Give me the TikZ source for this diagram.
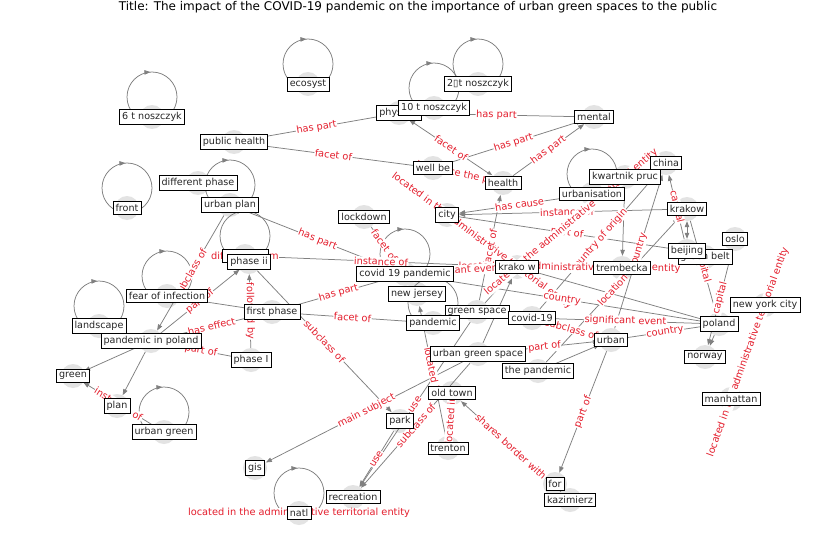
\documentclass[tikz,border=0pt]{standalone}
\usepackage{fontspec}
\setmainfont{DejaVu Sans}
\usetikzlibrary{arrows.meta,decorations.markings,calc}
\definecolor{elab}{RGB}{228,30,45}
\pgfdeclarelayer{bgw}\pgfdeclarelayer{circ}\pgfdeclarelayer{edges}\pgfdeclarelayer{boxes}
\pgfsetlayers{bgw,circ,edges,main,boxes}
\tikzset{
 dot/.style={circle,fill=gray!22,draw=none,minimum size=24pt,inner sep=0pt},
 lbl/.style={draw=black,fill=white,line width=0.6pt,inner sep=2.6pt,text=black!85,font=\fontsize{9.6}{11}\selectfont},
 edge/.style={draw=gray,line width=0.75pt,-{Triangle[length=6pt,width=4.5pt]}},
 bedge/.style={draw=gray,line width=0.75pt,{Triangle[length=6pt,width=4.5pt]}-{Triangle[length=6pt,width=4.5pt]}},
 el/.style={text=elab,fill=white,inner sep=0.6pt,font=\fontsize{9.8}{11}\selectfont,midway,sloped},
 sl/.style={text=elab,fill=white,inner sep=0.6pt,font=\fontsize{9.8}{11}\selectfont},
 loopst/.style={draw=gray,color=gray,line width=0.75pt,postaction={decorate},decoration={markings,mark=at position 0.74 with {\arrow{Triangle[length=6pt,width=4.5pt]}}}}
}
\newcommand\nodeN[3]{%
 \begin{pgfonlayer}{circ}\node[dot] (#1) at (#2) {};\end{pgfonlayer}%
 \begin{pgfonlayer}{boxes}\node[lbl] (#1-t) at (#2) {#3};\end{pgfonlayer}}
\newcommand\edgeL[4][edge]{%
 \begin{pgfonlayer}{edges}\path[#1] (#2) -- (#3);\end{pgfonlayer}%
 \path (#2) -- node[el] {#4} (#3);}
\newcommand\edgeP[3][edge]{%
 \begin{pgfonlayer}{edges}\path[#1] (#2) -- (#3);\end{pgfonlayer}}
\newcommand\loopN[1]{%
 \begin{pgfonlayer}{edges}\path[loopst] ($(#1)+(0,-20)$) circle[radius=25];\end{pgfonlayer}}
\begin{document}
\begin{tikzpicture}[x=1pt,y=-1pt]
\begin{pgfonlayer}{bgw}\fill[white] (0,0) rectangle (837,559);\end{pgfonlayer}
\useasboundingbox (0,0) rectangle (837,559);
\node[font=\fontsize{12}{14}\selectfont] (title) at (418,7) {Title: The impact of the COVID-19 pandemic on the importance of urban green spaces to the public};
% nodes
\nodeN{n6t}{152,117}{6 t noszczyk}
\nodeN{eco}{308,84}{ecosyst}
\nodeN{n2t}{478,84}{2▯t noszczyk}
\nodeN{phy}{399,113}{physical}
\nodeN{n10t}{434,108}{10 t noszczyk}
\nodeN{ment}{594,117}{mental}
\nodeN{pubh}{234,142}{public health}
\nodeN{well}{433,168}{well be}
\nodeN{hlth}{503,183}{health}
\nodeN{china}{666,163}{china}
\nodeN{kwp}{625,177}{kwartnik pruc}
\nodeN{urbs}{592,194}{urbanisation}
\nodeN{difp}{198,183}{different phase}
\nodeN{uplan}{230,205}{urban plan}
\nodeN{front}{127,208}{front}
\nodeN{lock}{364,217}{lockdown}
\nodeN{city}{447,215}{city}
\nodeN{krakow}{687,209}{krakow}
\nodeN{oslo}{735,239}{oslo}
\nodeN{belt}{705,257}{green belt}
\nodeN{beij}{687,251}{beijing}
\nodeN{hid}{245,256}{\phantom{different}}
\nodeN{ph2}{249,262}{phase ii}
\nodeN{c19p}{405,274}{covid 19 pandemic}
\nodeN{krw}{517,267}{krako w}
\nodeN{trem}{622,268}{trembecka}
\nodeN{nj}{417,294}{new jersey}
\nodeN{fear}{167,296}{fear of infection}
\nodeN{fph}{272,312}{first phase}
\nodeN{gs}{477,312}{green space}
\nodeN{pand}{433,323}{pandemic}
\nodeN{cov}{532,318}{covid-19}
\nodeN{nyc}{765,305}{new york city}
\nodeN{pol}{719,324}{poland}
\nodeN{land}{99,326}{landscape}
\nodeN{pip}{151,341}{pandemic in poland}
\nodeN{urb}{611,340}{urban}
\nodeN{ugs}{478,354}{urban green space}
\nodeN{ph1}{251,360}{phase I}
\nodeN{nor}{705,357}{norway}
\nodeN{tpan}{538,371}{the pandemic}
\nodeN{green}{73,376}{green}
\nodeN{old}{452,393}{old town}
\nodeN{manh}{731,399}{manhattan}
\nodeN{plan}{117,406}{plan}
\nodeN{park}{400,421}{park}
\nodeN{ugreen}{164,432}{urban green}
\nodeN{tren}{448,448}{trenton}
\nodeN{gis}{255,468}{gis}
\nodeN{for}{555,484}{for}
\nodeN{kaz}{570,500}{kazimierz}
\nodeN{rec}{353,497}{recreation}
\nodeN{natl}{299,513}{natl}
% self loops
\loopN{n6t}\loopN{eco}\loopN{n2t}\loopN{n10t}\loopN{urbs}\loopN{uplan}\loopN{front}
\loopN{hid}\loopN{c19p}\loopN{fear}\loopN{land}\loopN{ugreen}\loopN{natl}\loopN{pand}
% edges
\edgeL{pubh}{phy}{has part}
\edgeL{pubh}{well}{facet of}
\edgeL[bedge]{phy}{hlth}{facet of}
\edgeL{phy}{ment}{has part}
\edgeL{well}{ment}{has part}
\edgeL{hlth}{ment}{has part}
\edgeL{well}{hlth}{influence the process}
\edgeL{urbs}{city}{has cause}
\edgeL{krakow}{city}{instance of}
\edgeL{city}{krw}{located in the administrative territorial entity}
\edgeL{city}{beij}{part of}
\edgeL{kwp}{krw}{located in the administrative territorial entity}
\edgeL{gs}{hlth}{facet of}
\edgeL{cov}{china}{country of origin}
\edgeP{kwp}{trem}
\edgeL{urb}{china}{country}
\edgeL{beij}{china}{capital}
\edgeP[bedge]{krakow}{beij}
\edgeL{krakow}{pol}{capital}
\edgeL{oslo}{nor}{capital}
\edgeL{pol}{cov}{significant event}
\edgeL{urb}{pol}{country}
\edgeL{c19p}{pol}{country}
\edgeL{tpan}{krakow}{location}
\edgeL{trem}{krw}{located in the administrative territorial entity}
\edgeL{c19p}{krw}{significant event}
\edgeL{uplan}{c19p}{has part}
\edgeL{lock}{c19p}{facet of}
\edgeL{hid}{krw}{instance of}
\edgeL{uplan}{pip}{subclass of}
\edgeL{pip}{ph2}{part of}
\edgeP{fear}{fph}
\edgeL{pip}{fph}{has effect}
\edgeL{ph1}{ph2}{followed by}
\edgeL{pip}{ph1}{part of}
\edgeL{fph}{c19p}{has part}
\edgeL{fph}{pand}{facet of}
\edgeL{ph2}{park}{subclass of}
\edgeP{pip}{plan}
\edgeP{pip}{green}
\edgeL{ugreen}{green}{instance of}
\edgeL{ugs}{gis}{main subject}
\edgeL{park}{rec}{use}
\edgeL{gs}{rec}{use}
\edgeL{ugs}{rec}{subclass of}
\edgeL{old}{tren}{located in}
\edgeL{tren}{nj}{located in}
\edgeL{kaz}{old}{shares border with}
\edgeL{urb}{for}{part of}
\edgeL{manh}{nyc}{located in the administrative territorial entity}
\edgeP{pol}{nor}
\edgeL{ugs}{urb}{part of}
\edgeL{cov}{urb}{subclass of}
\edgeP{tpan}{urb}
\edgeP{ugs}{krw}
\edgeP{gs}{krw}
\edgeP{krw}{pol}
% self-loop labels
\node[sl] (lhid) at (hid) {different from};
\node[sl] (lnatl) at (natl) {located in the administrative territorial entity};
\end{tikzpicture}
\end{document}
